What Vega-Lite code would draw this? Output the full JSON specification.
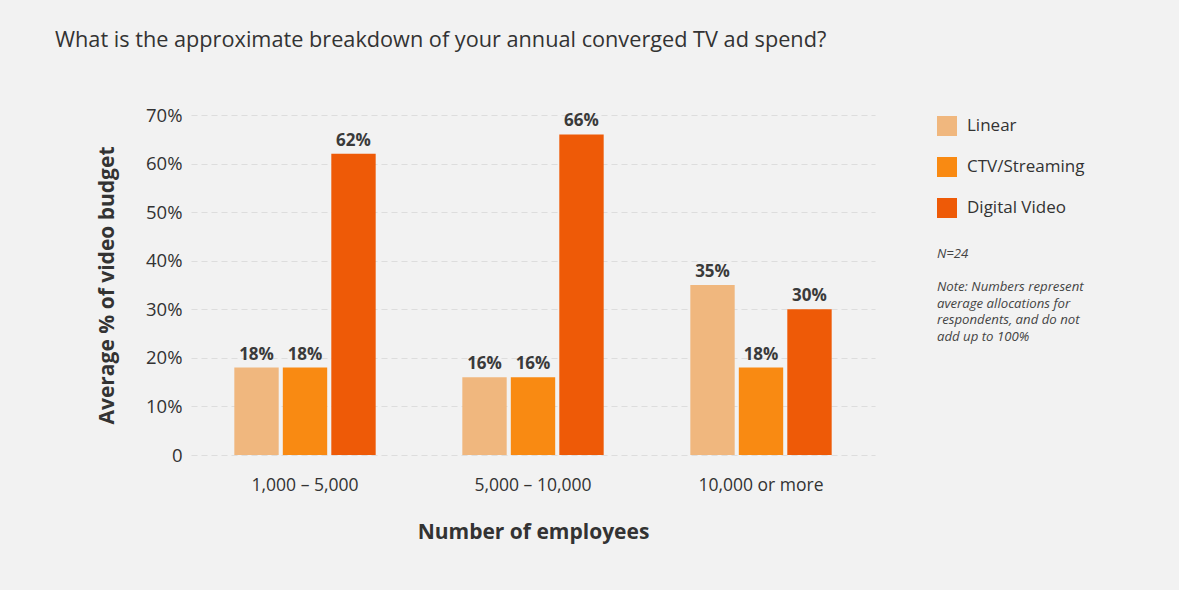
{
  "$schema": "https://vega.github.io/schema/vega-lite/v6.json",
  "width": 684,
  "height": 340,
  "autosize": "none",
  "padding": {"left": 191, "top": 115, "right": 304, "bottom": 135},
  "background": "#f2f2f2",
  "config": {
    "font": "Open Sans",
    "view": {"stroke": null},
    "axis": {"labelColor": "#333333", "titleColor": "#333333", "domain": false, "ticks": false}
  },
  "title": {
    "text": "What is the approximate breakdown of your annual converged TV ad spend?",
    "anchor": "start",
    "frame": "group",
    "dx": -136,
    "offset": 54,
    "fontSize": 21.7,
    "fontWeight": "normal",
    "color": "#333333"
  },
  "data": {
    "values": [
      {"employees": "1,000 – 5,000", "channel": "Linear", "share": 0.18},
      {"employees": "1,000 – 5,000", "channel": "CTV/Streaming", "share": 0.18},
      {"employees": "1,000 – 5,000", "channel": "Digital Video", "share": 0.62},
      {"employees": "5,000 – 10,000", "channel": "Linear", "share": 0.16},
      {"employees": "5,000 – 10,000", "channel": "CTV/Streaming", "share": 0.16},
      {"employees": "5,000 – 10,000", "channel": "Digital Video", "share": 0.66},
      {"employees": "10,000 or more", "channel": "Linear", "share": 0.35},
      {"employees": "10,000 or more", "channel": "CTV/Streaming", "share": 0.18},
      {"employees": "10,000 or more", "channel": "Digital Video", "share": 0.30}
    ]
  },
  "encoding": {
    "x": {
      "field": "employees",
      "type": "nominal",
      "sort": null,
      "scale": {"paddingInner": 0.38, "paddingOuter": 0.19},
      "axis": {
        "title": "Number of employees",
        "labelAngle": 0,
        "labelFontSize": 17.5,
        "labelPadding": 21,
        "titleFontSize": 21,
        "titleFontWeight": "bold",
        "titlePadding": 28
      }
    },
    "xOffset": {
      "field": "channel",
      "type": "nominal",
      "sort": ["Linear", "CTV/Streaming", "Digital Video"],
      "scale": {"paddingInner": 0.085, "paddingOuter": 0}
    },
    "y": {
      "field": "share",
      "type": "quantitative",
      "scale": {"domain": [0, 0.7]},
      "axis": {
        "title": "Average % of video budget",
        "values": [0, 0.1, 0.2, 0.3, 0.4, 0.5, 0.6, 0.7],
        "labelExpr": "datum.value === 0 ? '0' : format(datum.value, '.0%')",
        "labelFontSize": 18.5,
        "labelPadding": 9,
        "titleFontSize": 21,
        "titleFontWeight": "bold",
        "titlePadding": 28,
        "gridColor": "#dddddd",
        "gridDash": [6, 4]
      }
    }
  },
  "layer": [
    {
      "mark": {"type": "bar"},
      "encoding": {
        "color": {
          "field": "channel",
          "type": "nominal",
          "sort": ["Linear", "CTV/Streaming", "Digital Video"],
          "scale": {
            "domain": ["Linear", "CTV/Streaming", "Digital Video"],
            "range": ["#f0b77e", "#f98a12", "#ee5a07"]
          },
          "legend": {
            "orient": "none",
            "legendX": 746,
            "legendY": 1,
            "title": [
              "N=24",
              "\u200b",
              "Note: Numbers represent",
              "average allocations for",
              "respondents, and do not",
              "add up to 100%"
            ],
            "titleOrient": "bottom",
            "titleAnchor": "start",
            "titleAlign": "left",
            "titleFontSize": 13.2,
            "titleFontStyle": "italic",
            "titleFontWeight": "normal",
            "titleColor": "#444444",
            "titleLineHeight": 16.6,
            "titlePadding": 30,
            "titleLimit": 300,
            "symbolType": "square",
            "symbolSize": 400,
            "symbolStrokeWidth": 0,
            "labelFontSize": 17,
            "labelColor": "#333333",
            "labelOffset": 10,
            "rowPadding": 21
          }
        }
      }
    },
    {
      "mark": {"type": "text", "baseline": "bottom", "dy": -4, "fontSize": 17, "fontWeight": "bold", "color": "#3a3a3a"},
      "encoding": {
        "text": {"field": "share", "type": "quantitative", "format": ".0%"},
        "detail": {"field": "channel"}
      }
    }
  ]
}
